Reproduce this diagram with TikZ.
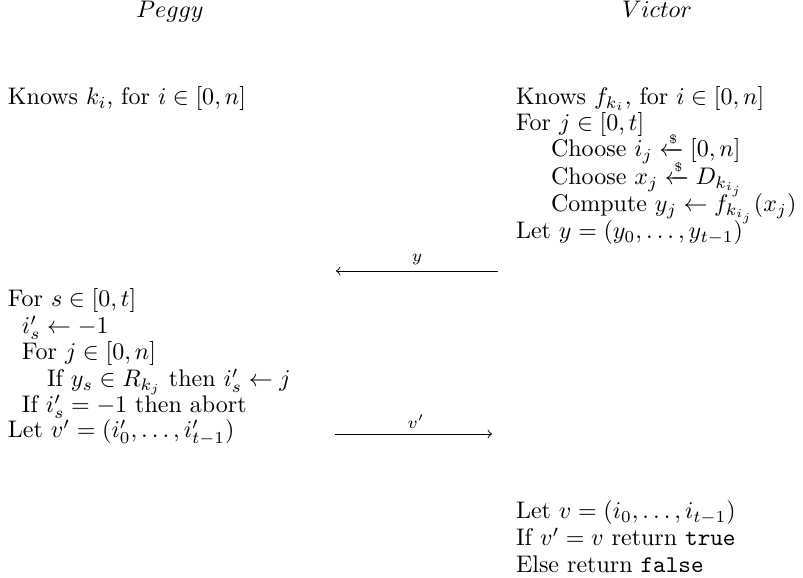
\documentclass[tikz,border=0pt]{standalone}
\usepackage{amsmath,amssymb}
\newcommand{\rnd}{\xleftarrow{\scriptscriptstyle\$}}
\begin{document}
\begin{tikzpicture}[x=0.4167pt,y=-0.4167pt,
  txt/.style={anchor=base west,inner sep=0pt,outer sep=0pt},
  ttl/.style={anchor=base,inner sep=0pt},
  msg/.style={->,>=to,line width=0.4pt},
  lbl/.style={anchor=base,inner sep=0pt,font=\scriptsize}]
\useasboundingbox (0,0) rectangle (803,578);
\node[ttl] (peggy) at (170,18) {$Peggy$};
\node[ttl] (victor) at (657,18) {$Victor$};
% Peggy
\node[txt] (p1) at (8,105) {Knows $k_i$, for $i\in[0,n]$};
\node[txt] (p2) at (8,307) {For $s\in[0,t]$};
\node[txt] (p3) at (22,334) {$i'_s\leftarrow -1$};
\node[txt] (p4) at (22,360) {For $j\in[0,n]$};
\node[txt] (p5) at (47,387) {If $y_s\in R_{k_j}$ then $i'_s\leftarrow j$};
\node[txt] (p6) at (22,413) {If $i'_s=-1$ then abort};
\node[txt] (p7) at (8,438) {Let $v'=(i'_0,\ldots,i'_{t-1})$};
% Victor
\node[txt] (v1) at (516,105) {Knows $f_{k_i}$, for $i\in[0,n]$};
\node[txt] (v2) at (516,131) {For $j\in[0,t]$};
\node[txt] (v3) at (551,157) {Choose $i_j\rnd[0,n]$};
\node[txt] (v4) at (551,185) {Choose $x_j\rnd D_{k_{i_j}}$};
\node[txt] (v5) at (551,212) {Compute $y_j\leftarrow f_{k_{i_j}}(x_j)$};
\node[txt] (v6) at (516,239) {Let $y=(y_0,\ldots,y_{t-1})$};
\node[txt] (v7) at (516,519) {Let $v=(i_0,\ldots,i_{t-1})$};
\node[txt] (v8) at (516,546) {If $v'=v$ return \texttt{true}};
\node[txt] (v9) at (516,572) {Else return \texttt{false}};
% messages
\coordinate (ya) at (498,271);
\coordinate (yb) at (336,271);
\draw[msg] (ya) -- (yb);
\node[lbl] (ylab) at (417,262) {$y$};
\coordinate (va) at (335,434);
\coordinate (vb) at (492,434);
\draw[msg] (va) -- (vb);
\node[lbl] (vlab) at (416,429) {$v'$};
\end{tikzpicture}
\end{document}
